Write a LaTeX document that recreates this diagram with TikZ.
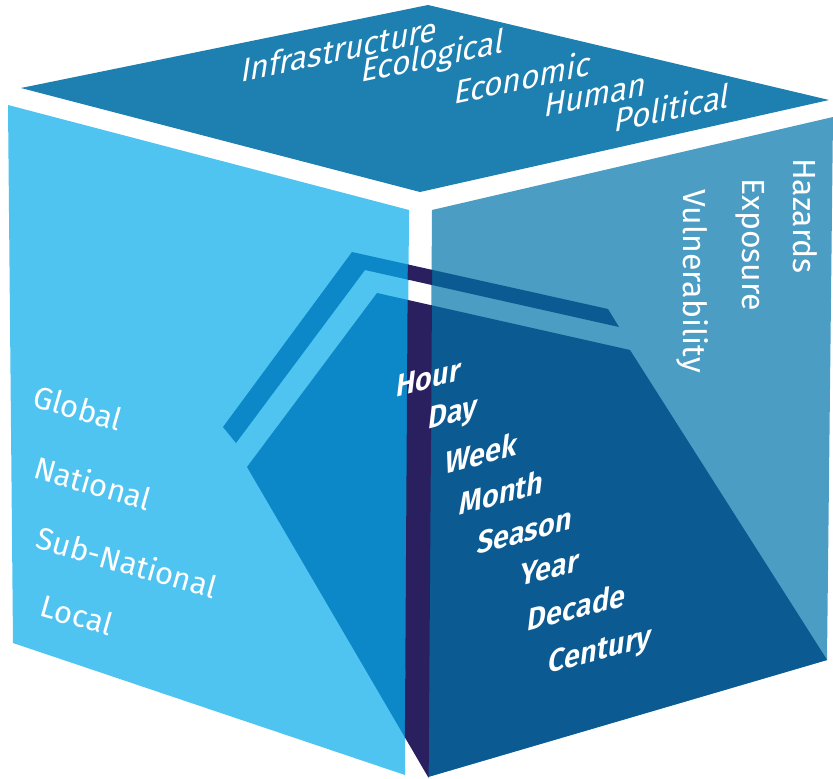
\documentclass[tikz,border=0pt]{standalone}
\usepackage{fontspec}
\setmainfont{Fira Sans}
\IfFontExistsTF{Fira Sans SemiBold}{\newfontfamily\semif{Fira Sans SemiBold}}{\newcommand\semif{\bfseries}}
\definecolor{topc}{HTML}{1D80B1}
\definecolor{leftc}{HTML}{4FC4F1}
\definecolor{rightc}{HTML}{4B9DC4}
\definecolor{slabl}{HTML}{0C87C7}
\definecolor{slabr}{HTML}{0B5A92}
\definecolor{navyc}{HTML}{2A2060}
\tikzset{
  toplab/.style={text=white, inner sep=0pt, font=\fontsize{32}{32}\selectfont, rotate=12, xslant=0.38},
  leftlab/.style={text=white, inner sep=0pt, font=\fontsize{31}{31}\selectfont, rotate=-16},
  rightlab/.style={text=white, inner sep=0pt, font=\fontsize{32}{32}\selectfont, rotate=-90},
  timelab/.style={text=white, inner sep=0pt, font=\semif\fontsize{30}{30}\selectfont, rotate=15, xslant=0.4}
}
\def\topface{(21,88) -- (428,5) -- (829,100) -- (420,192) -- cycle}
\def\leftface{(8,105) -- (409,210) -- (405,775) -- (13,643) -- cycle}
\def\rightface{(432,210) -- (833,117) -- (827,660) -- (428,777) -- cycle}
\def\gapcol{(408.5,150) -- (433,150) -- (428.5,800) -- (404.5,800) -- cycle}
\def\slab{(377,293) -- (630,350) -- (845,688) -- (441.5,800) -- (247,467) -- cycle}
\def\band{(223,427) -- (352,252) -- (608,309) -- (619,327) -- (365,270) -- (236,443) -- cycle}
\begin{document}
\begin{tikzpicture}[x=1pt,y=-1pt]
\useasboundingbox (0,0) rectangle (833,779);
\fill[topc] \topface;
\fill[leftc] \leftface;
\fill[rightc] \rightface;
\begin{scope}
  \clip \leftface;
  \fill[slabl] \slab;
  \fill[slabl] \band;
\end{scope}
\begin{scope}
  \clip \rightface;
  \fill[slabr] \slab;
  \fill[slabr] \band;
\end{scope}
\begin{scope}
  \clip \gapcol;
  \fill[navyc] \slab;
  \fill[navyc] \band;
\end{scope}
% top face labels
\node[toplab] (infra) at (340,49) {Infrastructure};
\node[toplab] (eco) at (433,58) {Ecological};
\node[toplab] (econ) at (523,77) {Economic};
\node[toplab] (human) at (596,95) {Human};
\node[toplab] (pol) at (673,107) {Political};
% left face labels
\node[leftlab] (glob) at (78,408) {Global};
\node[leftlab] (nat) at (93,483) {National};
\node[leftlab] (subnat) at (127,562) {Sub-National};
\node[leftlab] (loc) at (77,615) {Local};
% right face labels
\node[rightlab] (haz) at (805,216) {Hazards};
\node[rightlab] (expo) at (750,245) {Exposure};
\node[rightlab] (vul) at (693,281) {Vulnerability};
% time labels
\node[timelab] (hour) at (429,378) {Hour};
\node[timelab] (day) at (453,415) {Day};
\node[timelab] (week) at (482,453) {Week};
\node[timelab] (month) at (502,492) {Month};
\node[timelab] (season) at (525,531) {Season};
\node[timelab] (year) at (550,568) {Year};
\node[timelab] (decade) at (577,607) {Decade};
\node[timelab] (century) at (600,652) {Century};
\end{tikzpicture}
\end{document}
